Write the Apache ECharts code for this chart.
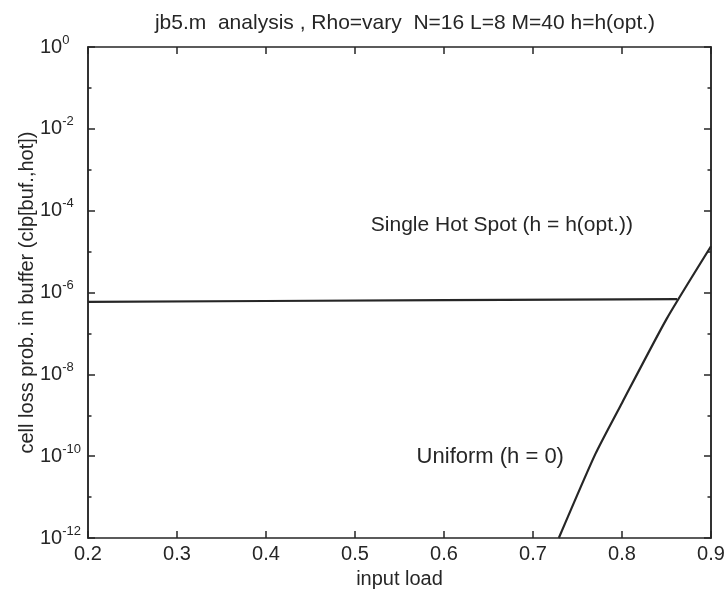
<!DOCTYPE html>
<html>
<head>
<meta charset="utf-8">
<script src="https://cdn.jsdelivr.net/npm/echarts@6/dist/echarts.min.js"></script>
<style>
html,body{margin:0;padding:0;background:#fff;}
#c{width:728px;height:595px;}
</style>
</head>
<body>
<div id="c"></div>
<script>
var titleText = 'jb5.m  analysis , Rho=vary  N=16 L=8 M=40 h=h(opt.)';
var xName = 'input load';
var yName = 'cell loss prob. in buffer (clp[buf.,hot])';

var hotX = [0.2, 0.4, 0.6, 0.8, 0.862];
var hotY = [5.9e-7, 6.2e-7, 6.5e-7, 6.8e-7, 6.9e-7];

var uniX = [0.729, 0.77, 0.8, 0.85, 0.9];
var uniY = [1e-12, 1.12e-10, 2.0e-9, 2.24e-7, 1.35e-5];

var hotLabel = 'Single Hot Spot (h = h(opt.))';
var hotLabelAt = [0.665, 4.5e-5];
var uniLabel = 'Uniform (h = 0)';
var uniLabelAt = [0.652, 9.5e-11];

var FONT = '"Liberation Sans", Arial, sans-serif';
var INK = '#262626';

function pairs(xs, ys){ return xs.map(function(x,i){ return [x, ys[i]]; }); }

function yLabel(v){
  var e = Math.round(Math.log10(v));
  return '{b|10}{s|' + e + '}';
}

var chart = echarts.init(document.getElementById('c'));

function yAxisDef(pos, len, labels){
  return {
    type: 'log', logBase: 10, min: 1e-12, max: 1,
    position: pos, interval: labels ? 2 : 1,
    axisLine: {show: true, lineStyle: {color: INK, width: 1.5}},
    axisTick: {show: true, inside: true, length: len, lineStyle: {color: INK, width: 1.5}},
    splitLine: {show: false},
    axisLabel: labels && pos === 'left' ? {
      show: true, formatter: yLabel, margin: 48, align: 'left',
      rich: {
        b: {fontFamily: FONT, fontSize: 20, color: INK},
        s: {fontFamily: FONT, fontSize: 13, color: INK, padding: [0,0,14,0]}
      }
    } : {show: false},
    name: labels && pos === 'left' ? yName : '',
    nameLocation: 'middle', nameGap: 51, nameMoveOverlap: false,
    nameTextStyle: {fontFamily: FONT, fontSize: 20, color: INK}
  };
}

var option = {
  backgroundColor: '#fff',
  animation: false,
  title: {
    text: titleText, left: 400, top: 8, textAlign: 'center',
    textStyle: {fontFamily: FONT, fontSize: 21, fontWeight: 'normal', color: INK}
  },
  grid: {left: 88, right: 17, top: 47, bottom: 57, containLabel: false, outerBoundsMode: 'none'},
  xAxis: [
    {
      type: 'value', min: 0.2, max: 0.9, interval: 0.1, position: 'bottom',
      axisLine: {show: true, lineStyle: {color: INK, width: 1.5}},
      axisTick: {show: true, inside: true, length: 7, lineStyle: {color: INK, width: 1.5}},
      splitLine: {show: false},
      axisLabel: {fontFamily: FONT, fontSize: 20, color: INK, margin: 6,
        formatter: function(v){ return v.toFixed(1); }},
      name: xName, nameLocation: 'middle', nameGap: 31, nameMoveOverlap: false,
      nameTextStyle: {fontFamily: FONT, fontSize: 20, color: INK}
    },
    {
      type: 'value', min: 0.2, max: 0.9, interval: 0.1, position: 'top',
      axisLine: {show: true, lineStyle: {color: INK, width: 1.5}},
      axisTick: {show: true, inside: true, length: 7, lineStyle: {color: INK, width: 1.5}},
      splitLine: {show: false}, axisLabel: {show: false}
    }
  ],
  yAxis: [
    yAxisDef('left', 7, true),
    yAxisDef('left', 3.5, false),
    yAxisDef('right', 7, true),
    yAxisDef('right', 3.5, false)
  ],
  series: [
    {
      type: 'line', name: 'hot', xAxisIndex: 0, yAxisIndex: 0,
      data: pairs(hotX, hotY), showSymbol: false, symbol: 'none',
      lineStyle: {color: INK, width: 2.2},
      markPoint: {
        symbol: 'circle', symbolSize: 0,
        label: {show: true, formatter: hotLabel, fontFamily: FONT, fontSize: 21, color: INK, position: 'inside'},
        data: [{coord: hotLabelAt}]
      }
    },
    {
      type: 'line', name: 'uni', xAxisIndex: 0, yAxisIndex: 0,
      data: pairs(uniX, uniY), showSymbol: false, symbol: 'none', smooth: 0.2,
      lineStyle: {color: INK, width: 2.2},
      markPoint: {
        symbol: 'circle', symbolSize: 0,
        label: {show: true, formatter: uniLabel, fontFamily: FONT, fontSize: 22, color: INK, position: 'inside'},
        data: [{coord: uniLabelAt}]
      }
    }
  ]
};
chart.setOption(option);
</script>
</body>
</html>
